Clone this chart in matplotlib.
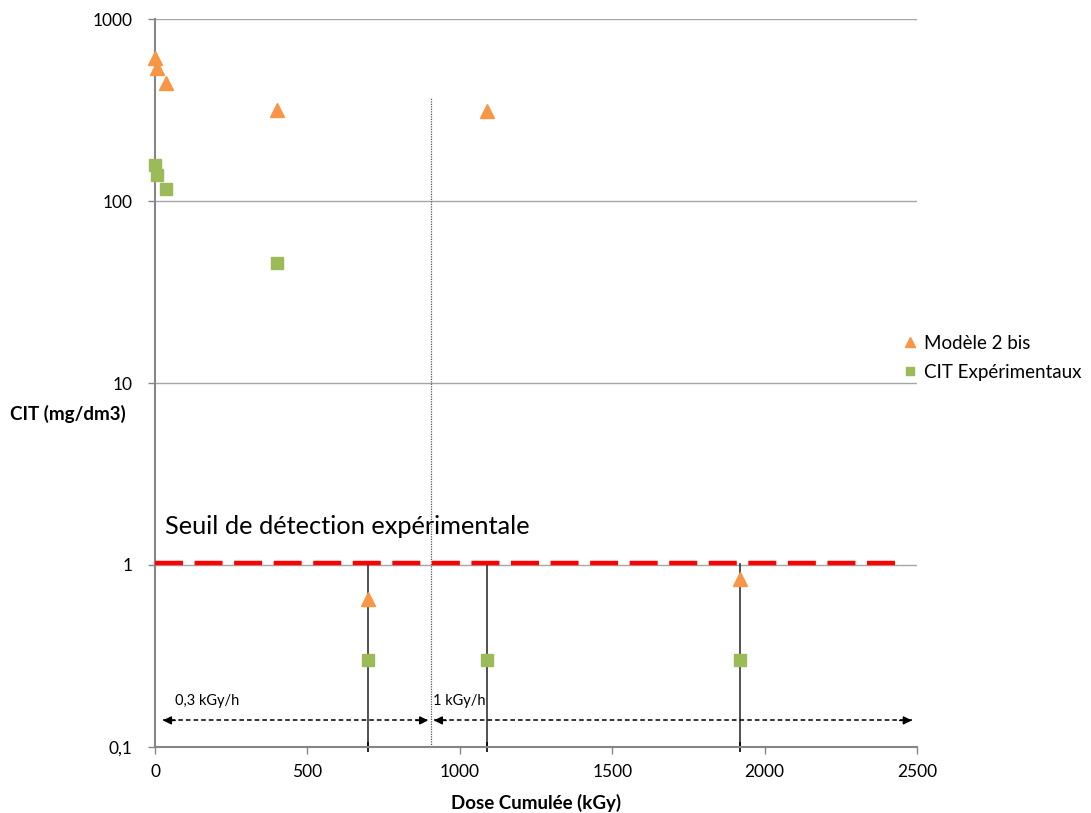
import matplotlib.pyplot as plt
from matplotlib.ticker import FixedLocator, FixedFormatter, NullLocator

plt.rcParams['font.family'] = ['Lato', 'DejaVu Sans']

# data
model_x = [0, 7, 36, 400, 1090, 700, 1920]
model_y = [611, 538, 445, 316, 312, 0.65, 0.84]
exp_x = [0, 7, 36, 400, 700, 1090, 1920]
exp_y = [158, 139, 116, 45.6, 0.3, 0.3, 0.3]

threshold = 1.03
threshold_x = [0, 2445]
dose_change = 905           # switch from 0.3 to 1 kGy/h
below_limit_x = [700, 1090, 1920]

rate_labels = ["0,3 kGy/h", "1 kGy/h"]
rate_spans = [(26, 896), (915, 2483)]

yticks = [0.1, 1, 10, 100, 1000]
ytick_labels = ["0,1", "1", "10", "100", "1000"]
xticks = [0, 500, 1000, 1500, 2000, 2500]

orange = "#F79646"
green = "#9BBB59"
spine = "#868686"

fig = plt.figure(figsize=(10.91, 8.13), dpi=100)
ax = fig.add_axes([0.1421, 0.0812, 0.6984, 0.8954])
ax.set_yscale("log")
ax.set_xlim(0, 2500)
ax.set_ylim(0.1, 1000)

ax.yaxis.set_major_locator(FixedLocator(yticks))
ax.yaxis.set_major_formatter(FixedFormatter(ytick_labels))
ax.yaxis.set_minor_locator(NullLocator())
ax.set_xticks(xticks)
ax.grid(axis="y", color="#A6A6A6", lw=1)
ax.set_axisbelow(True)
for s in ["top", "right"]:
    ax.spines[s].set_visible(False)
for s in ["left", "bottom"]:
    ax.spines[s].set_color(spine)
    ax.spines[s].set_linewidth(1.5)
ax.tick_params(axis="both", colors=spine, labelcolor="black", labelsize=12.5,
               length=5, width=1)
ax.tick_params(axis="x", pad=7)
ax.tick_params(axis="y", pad=11)

# vertical lines marking values below detection limit
for x in below_limit_x:
    ax.plot([x, x], [0.1, threshold * 0.985], color="#333333", lw=1.2, zorder=2)
    ax.plot([x], [0.1], marker="_", color="black", ms=7, mew=1.2, zorder=2, clip_on=False)
    ax.plot([x], [0.1], marker="|", color="black", ms=7, mew=1.2, zorder=2, clip_on=False)

# dotted line for dose rate change
ax.plot([dose_change, dose_change], [0.1, 375], color="#555555", lw=0.9, ls=(0, (1, 1)), zorder=2)

# detection threshold
ax.plot(threshold_x, [threshold, threshold], color="#FF0000", lw=3.2,
        dashes=(6.3, 2.6), zorder=3)
ax.text(33, 1.62, "Seuil de détection expérimentale", fontsize=18.3, va="center")

# dose rate arrows
for (x0, x1), lab in zip(rate_spans, rate_labels):
    ax.plot([x0, x1], [0.14, 0.14], color="black", lw=1.1, ls=(0, (3, 2)), zorder=2)
    for xa, xb in [(x0 + 40, x0), (x1 - 40, x1)]:
        ax.annotate("", xy=(xb, 0.14), xytext=(xa, 0.14),
                    arrowprops=dict(arrowstyle="-|>", color="black", lw=1.1,
                                    mutation_scale=12, shrinkA=0, shrinkB=0))
ax.text(66, 0.178, rate_labels[0], fontsize=10.5, va="center")
ax.text(913, 0.178, rate_labels[1], fontsize=10.5, va="center")

# series
ax.plot(model_x, model_y, ls="none", marker="^", ms=10, color=orange, mec=orange,
        label="Modèle 2 bis", zorder=4, clip_on=False)
ax.plot(exp_x, exp_y, ls="none", marker="s", ms=8, color=green, mec=green,
        label="CIT Expérimentaux", zorder=4, clip_on=False)

fig.text(0.009, 1 - 414 / 813, "CIT (mg/dm3)", fontsize=13.5, fontweight="bold", va="center")
ax.set_xlabel("Dose Cumulée (kGy)", fontsize=13.5, fontweight="bold", labelpad=10)

leg = fig.legend(loc="upper left", bbox_to_anchor=(0.813, 1 - 318 / 813), frameon=False,
                 fontsize=13.5, handlelength=0.7, handletextpad=0.35, labelspacing=0.65,
                 markerscale=0.75)

fig.savefig("out.png", dpi=100)
